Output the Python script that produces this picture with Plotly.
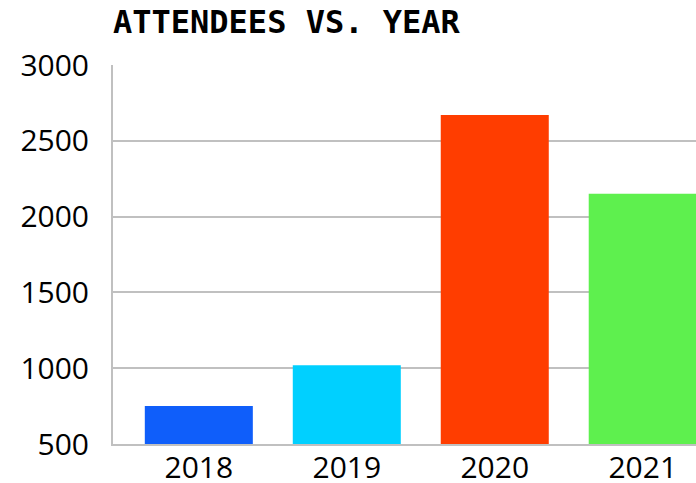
import plotly.graph_objects as go

years = ["2018", "2019", "2020", "2021"]
attendees = [750, 1020, 2670, 2150]
colors = ["#0F5EFA", "#00D0FF", "#FF3D00", "#5EF04E"]
y_ticks = [500, 1000, 1500, 2000, 2500, 3000]

fig = go.Figure(go.Bar(x=years, y=attendees, marker=dict(color=colors, line=dict(width=0))))

fig.update_layout(
    width=696, height=483,
    margin=dict(l=113, r=0, t=65, b=39, autoexpand=False),
    paper_bgcolor="white", plot_bgcolor="white",
    bargap=0.27,
    showlegend=False,
    title=dict(text="<b>ATTENDEES VS. YEAR</b>", x=113/696, xanchor="left", xref="container",
               y=1-22/483, yanchor="middle", yref="container",
               font=dict(family="DejaVu Sans Mono", size=32, color="black")),
    xaxis=dict(type="category", range=[-0.58, 3.36], showgrid=False, showline=True,
               linecolor="#c0c0c0", linewidth=2, ticks="", ticklabelstandoff=-4, automargin=False,
               tickfont=dict(family="Open Sans", size=30, color="black")),
    yaxis=dict(range=[500, 3000], tickvals=y_ticks, showgrid=True, gridcolor="#c0c0c0",
               gridwidth=1.5, showline=True, linecolor="#c0c0c0", linewidth=2, zeroline=False,
               ticks="", ticklabelstandoff=16, automargin=False,
               tickfont=dict(family="Open Sans", size=30, color="black")),
)

fig.write_html("out.html", config={"displayModeBar": False},
               post_script="document.body.style.margin='0';")
